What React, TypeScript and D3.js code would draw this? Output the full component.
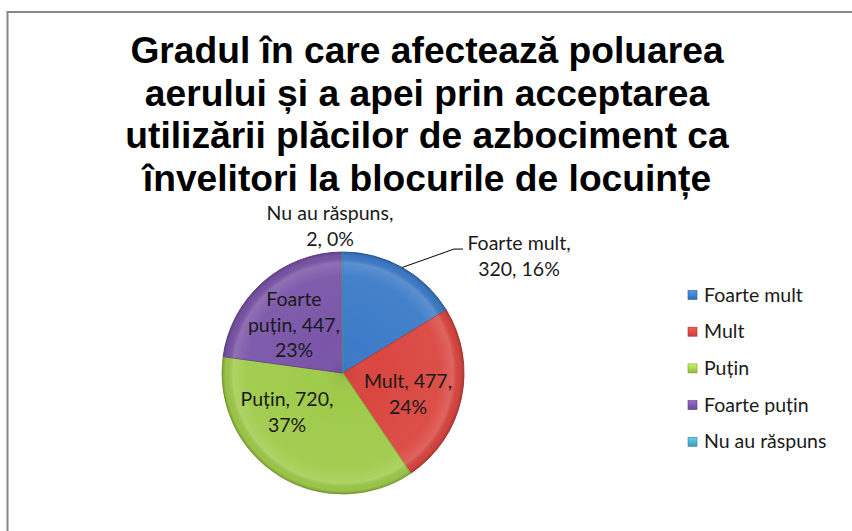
import React from 'react';
import * as d3 from 'd3';

// ---------- data ----------
const categories = ['Foarte mult', 'Mult', 'Puțin', 'Foarte puțin', 'Nu au răspuns'];
const values = [320, 477, 720, 447, 2];
const colors = ['#3C7BC8', '#DA4640', '#9FCB4A', '#7A55A8', '#4BACC6'];
const titleLines = [
  'Gradul în care afectează poluarea',
  'aerului și a apei prin acceptarea',
  'utilizării plăcilor de azbociment ca',
  'învelitori la blocurile de locuințe',
];
// words per line for each data label (how the label wraps)
const labelWrap = [[2, 2], [2, 1], [2, 1], [1, 2, 1], [3, 2]];

// ---------- layout ----------
const W = 852;
const H = 531;
const CX = 343;
const CY = 373;
const R = 121;
const labelFont = 'Lato, "Open Sans", sans-serif';
const labelSize = 19.5;
const labelLH = 25.5;
// label block centres relative to the pie centre
const labelPos: [number, number][] = [
  [176, -117],
  [65, 21],
  [-56, 39],
  [-49, -48],
  [-13, -147],
];
const titleY0 = 63;
const titleLH = 42.5;
const legendX = 688;
const legendY0 = 301.5;
const legendStep = 36.7;

export default function App() {
  const total = d3.sum(values);
  const pie = d3
    .pie<number>()
    .sort(null)
    .value((d) => d)
    .startAngle(0)
    .endAngle(2 * Math.PI);
  const arcs = pie(values);
  const arcGen = d3.arc<d3.PieArcDatum<number>>().innerRadius(0).outerRadius(R);

  const labelLines = values.map((v, i) => {
    const pct = Math.round((v / total) * 100);
    const words = `${categories[i]}, ${v}, ${pct}%`.split(' ');
    const lines: string[] = [];
    let k = 0;
    for (const n of labelWrap[i]) {
      lines.push(words.slice(k, k + n).join(' '));
      k += n;
    }
    return lines;
  });

  // leader line for first slice (outside label)
  const a0 = arcs[0];
  const mid0 = (a0.startAngle + a0.endAngle) / 2;
  const lx0 = CX + Math.sin(mid0) * R;
  const ly0 = CY - Math.cos(mid0) * R;
  const firstBaseline0 =
    CY + labelPos[0][1] - ((labelLines[0].length - 1) * labelLH) / 2 + labelSize * 0.35;
  const labelLeft0 = CX + labelPos[0][0] - 53;
  const leader = d3.line()([
    [lx0, ly0],
    [labelLeft0 - 12, firstBaseline0 - 1],
    [labelLeft0 - 3, firstBaseline0 - 1],
  ]);

  return (
    <div style={{ position: 'absolute', left: 0, top: 0 }}>
      <svg width={W} height={H} style={{ display: 'block' }}>
        <defs>
          <radialGradient id="bevel" cx={0} cy={0} r={R} gradientUnits="userSpaceOnUse">
            <stop offset="0" stopColor="#000" stopOpacity={0.08} />
            <stop offset="0.25" stopColor="#fff" stopOpacity={0} />
            <stop offset="0.8" stopColor="#fff" stopOpacity={0.05} />
            <stop offset="0.91" stopColor="#fff" stopOpacity={0.16} />
            <stop offset="0.97" stopColor="#000" stopOpacity={0.03} />
            <stop offset="1" stopColor="#000" stopOpacity={0.2} />
          </radialGradient>
          {colors.map((c, i) => (
            <linearGradient key={i} id={`leg${i}`} x1="0" y1="0" x2="0" y2="1">
              <stop offset="0" stopColor={d3.color(c)!.brighter(0.6).formatHex()} />
              <stop offset="1" stopColor={d3.color(c)!.darker(0.3).formatHex()} />
            </linearGradient>
          ))}
        </defs>
        <rect x={0} y={0} width={W} height={H} fill="#fff" />
        <path
          d={`M7.5,${H + 2} L7.5,12 L${W + 2},12`}
          fill="none"
          stroke="#878787"
          strokeWidth={2}
        />
        {/* title */}
        <g fontFamily='"Liberation Sans", Arial, sans-serif' fontWeight="bold" fontSize={37.2} fill="#000">
          {titleLines.map((t, i) => (
            <text key={i} x={427} y={titleY0 + i * titleLH} textAnchor="middle">
              {t}
            </text>
          ))}
        </g>
        {/* pie */}
        <g transform={`translate(${CX},${CY})`}>
          {arcs.map((a, i) => (
            <g key={i}>
              <path
                d={arcGen(a)!}
                fill={colors[i]}
                stroke={d3.color(colors[i])!.darker(0.5).formatHex()}
                strokeWidth={1}
              />
              <path d={arcGen(a)!} fill="url(#bevel)" />
            </g>
          ))}
        </g>
        {/* leader */}
        <path d={leader!} fill="none" stroke="#000" strokeWidth={1} />
        {/* data labels */}
        <g fontFamily={labelFont} fontSize={labelSize} fill="#1a1a1a">
          {labelLines.map((lines, i) => {
            const cx = CX + labelPos[i][0];
            const cy = CY + labelPos[i][1];
            const y0 = cy - ((lines.length - 1) * labelLH) / 2 + labelSize * 0.35;
            return (
              <text key={i} x={cx} textAnchor="middle">
                {lines.map((l, j) => (
                  <tspan key={j} x={cx} y={y0 + j * labelLH}>
                    {l}
                  </tspan>
                ))}
              </text>
            );
          })}
        </g>
        {/* legend */}
        <g fontFamily={labelFont} fontSize={labelSize} fill="#1a1a1a">
          {categories.map((c, i) => {
            const y = legendY0 + i * legendStep;
            return (
              <g key={i}>
                <rect
                  x={legendX}
                  y={y - 11}
                  width={9}
                  height={9}
                  fill={`url(#leg${i})`}
                  stroke={d3.color(colors[i])!.darker(0.8).formatHex()}
                  strokeWidth={0.6}
                />
                <text x={legendX + 16} y={y}>
                  {c}
                </text>
              </g>
            );
          })}
        </g>
      </svg>
    </div>
  );
}
